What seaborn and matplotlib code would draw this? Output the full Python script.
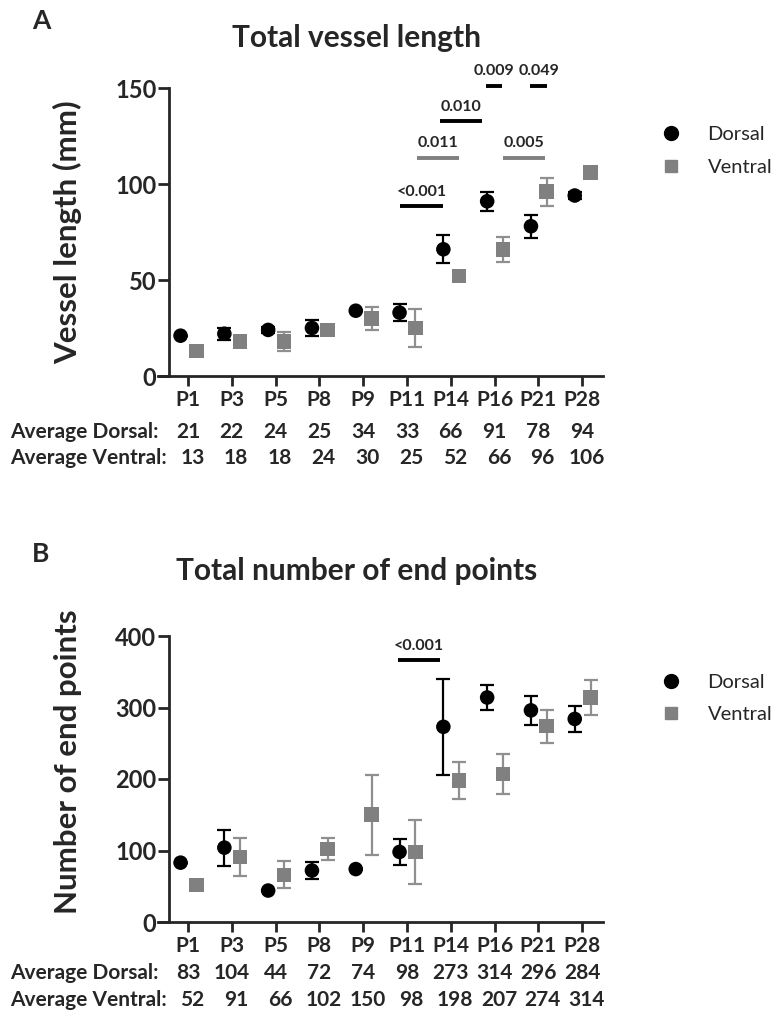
import numpy as np
import pandas as pd
import seaborn as sns
import matplotlib
matplotlib.use("Agg")
import matplotlib.pyplot as plt
import matplotlib.transforms as mtransforms
from matplotlib.lines import Line2D

# ---- data ----
ages = ["P1", "P3", "P5", "P8", "P9", "P11", "P14", "P16", "P21", "P28"]

len_dorsal = [21, 22, 24, 25, 34, 33, 66, 91, 78, 94]
len_dorsal_err = [0, 3, 1.5, 4.3, 0, 4.5, 7.3, 5, 6, 2]
len_ventral = [13, 18, 18, 24, 30, 25, 52, 66, 96, 106]
len_ventral_err = [0, 0, 5, 1, 6, 10, 2.5, 6.5, 7.3, 0]

end_dorsal = [83, 104, 44, 72, 74, 98, 273, 314, 296, 284]
end_dorsal_err = [0, 25, 0, 11.6, 0, 18, 67, 18, 20, 18]
end_ventral = [52, 91, 66, 102, 150, 98, 198, 207, 274, 314]
end_ventral_err = [0, 27, 19, 15, 56, 44.5, 26, 28, 23, 24]

# significance bars: (x0, x1, y, label, colour)
len_sig = [
    (4.84, 5.82, 88.4, "<0.001", "black"),
    (5.23, 6.19, 113.8, "0.011", "grey"),
    (5.75, 6.71, 132.8, "0.010", "black"),
    (6.80, 7.17, 151.3, "0.009", "black"),
    (7.81, 8.20, 151.3, "0.049", "black"),
    (7.19, 8.15, 113.8, "0.005", "grey"),
]
end_sig = [
    (4.80, 5.75, 366.5, "<0.001", "black"),
]

GREY = "#808080"
GREY_ERR = "#8f8f8f"
D_OFF, V_OFF = -0.17, 0.19
FS_TAB = 15

sns.set_style("ticks")
plt.rcParams["font.family"] = ["Lato", "DejaVu Sans"]

fig = plt.figure(figsize=(7.79, 10.10), dpi=100)
W, H = 779.0, 1010.0


def fx(px):
    return px / W


def fy(py):
    return 1 - py / H


def panel(ax, dorsal, derr, ventral, verr, ymax, step, ylabel, sigs, label_y):
    idx = np.arange(len(ages))
    df = pd.DataFrame({
        "x": np.concatenate([idx + D_OFF, idx + V_OFF]),
        "y": dorsal + ventral,
        "group": ["Dorsal"] * len(ages) + ["Ventral"] * len(ages),
    })
    ax.errorbar(idx + D_OFF, dorsal, yerr=derr, fmt="none", ecolor="black",
                elinewidth=1.6, capsize=5, capthick=1.6, zorder=2)
    ax.errorbar(idx + V_OFF, ventral, yerr=verr, fmt="none", ecolor=GREY_ERR,
                elinewidth=1.6, capsize=5, capthick=1.6, zorder=2)
    sns.scatterplot(data=df, x="x", y="y", hue="group", style="group",
                    markers={"Dorsal": "o", "Ventral": "s"},
                    palette={"Dorsal": "black", "Ventral": GREY},
                    s=110, linewidth=0, legend=False, ax=ax, zorder=3)

    ax.set_xlim((158 - 188) / 43.8, (603 - 188) / 43.8)
    ax.set_ylim(0, ymax)
    ax.spines["left"].set_position(("data", (169 - 188) / 43.8))
    ax.spines["left"].set_bounds(0, ymax)
    for side in ["top", "right"]:
        ax.spines[side].set_visible(False)
    for side in ["left", "bottom"]:
        ax.spines[side].set_linewidth(2)
    ax.set_yticks(np.arange(0, ymax + 1, step))
    ax.set_yticklabels([str(int(v)) for v in np.arange(0, ymax + 1, step)],
                       fontsize=17, fontweight="bold")
    ax.set_xticks(idx)
    ax.set_xticklabels(ages, fontsize=FS_TAB, fontweight="bold")
    ax.tick_params(axis="y", length=8, width=2, pad=1)
    ax.tick_params(axis="x", length=7, width=2, pad=3)
    ax.set_xlabel("")
    ax.set_ylabel(ylabel, fontsize=22.5, fontweight="bold")
    ax.yaxis.set_label_coords((82 - 158) / 445, label_y)

    for x0, x1, y, txt, c in sigs:
        col = GREY if c == "grey" else "black"
        ax.plot([x0, x1], [y, y], color=col, lw=2.8, clip_on=False,
                solid_capstyle="butt")
        ax.text((x0 + x1) / 2, y + ymax * 0.025, txt, ha="center", va="bottom",
                fontsize=11.5, fontweight="bold", clip_on=False)

    handles = [
        Line2D([], [], marker="o", color="black", ls="", markersize=10),
        Line2D([], [], marker="s", color=GREY, ls="", markersize=9),
    ]
    ax.legend(handles, ["Dorsal", "Ventral"], loc="upper left",
              bbox_to_anchor=(1.09, 0.93), frameon=False, fontsize=14.5,
              handletextpad=1.3, labelspacing=0.75, handlelength=1.0)


def table_rows(ax, dorsal, ventral, yd, yv):
    tr = mtransforms.blended_transform_factory(ax.transData, fig.transFigure)
    fig.text(fx(10), fy(yd), "Average Dorsal:", fontsize=FS_TAB,
             fontweight="bold", va="center", ha="left")
    fig.text(fx(10), fy(yv), "Average Ventral:", fontsize=FS_TAB,
             fontweight="bold", va="center", ha="left")
    for i, (d, v) in enumerate(zip(dorsal, ventral)):
        ax.text(i, fy(yd), str(d), transform=tr, ha="center", va="center",
                fontsize=FS_TAB, fontweight="bold")
        ax.text(i + 0.1, fy(yv), str(v), transform=tr, ha="center",
                va="center", fontsize=FS_TAB, fontweight="bold")


# panel A
axA = fig.add_axes([fx(158), fy(376), 445 / W, 288 / H])
panel(axA, len_dorsal, len_dorsal_err, len_ventral, len_ventral_err,
      150, 50, "Vessel length (mm)", len_sig, 0.5)
table_rows(axA, len_dorsal, len_ventral, 432, 458)
fig.text(fx(357), fy(38), "Total vessel length", ha="center", va="center",
         fontsize=21.5, fontweight="bold")
fig.text(fx(32), fy(21), "A", ha="left", va="center", fontsize=19,
         fontweight="bold")

# panel B
axB = fig.add_axes([fx(158), fy(922), 445 / W, 286 / H])
panel(axB, end_dorsal, end_dorsal_err, end_ventral, end_ventral_err,
      400, 100, "Number of end points", end_sig, 0.56)
table_rows(axB, end_dorsal, end_ventral, 973, 1000)
fig.text(fx(357), fy(571), "Total number of end points", ha="center",
         va="center", fontsize=21.5, fontweight="bold")
fig.text(fx(32), fy(554), "B", ha="left", va="center", fontsize=19,
         fontweight="bold")

fig.savefig("out.png", dpi=100)
